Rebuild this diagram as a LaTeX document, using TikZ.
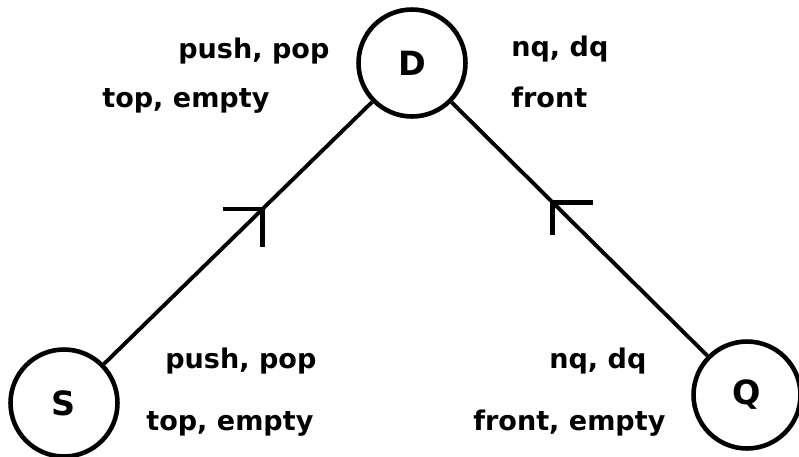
\documentclass[tikz,border=0pt]{standalone}
\usepackage{fontspec}
\setmainfont{DejaVu Sans}
\usetikzlibrary{calc}
\begin{document}
\begin{tikzpicture}[x=0.02cm,y=-0.02cm,
  state/.style={circle,draw,line width=2.6pt,minimum size=2.14cm,inner sep=0pt,
    font=\fontsize{19}{19}\selectfont\bfseries},
  link/.style={line width=2.2pt},
  barb/.style={line width=2.6pt},
  lbl/.style={anchor=base west,inner sep=0pt,
    font=\fontsize{15.4}{16}\selectfont\bfseries}]
\clip (0,0) rectangle (799,457);

% objects
\node[state] (D) at (412,63) {D};
\node[state] (S) at (64,403) {S};
\node[state] (Q) at (747,395) {Q};

% uses relations
\draw[link] (S) -- (D);
\draw[link] (Q) -- (D);

% open arrowheads pointing towards D
\coordinate (ls) at ($(S)!0.57!(D)$);
\draw[barb] ($(ls)+(-39,0)$) -- (ls) -- ($(ls)+(0,38)$);
\coordinate (rs) at ($(Q)!0.58!(D)$);
\draw[barb] ($(rs)+(40,0)$) -- (rs) -- ($(rs)+(0,33)$);

% operation labels
\node[lbl] (dsa) at (178,58) {push, pop};
\node[lbl] (dsb) at (102,107) {top, empty};
\node[lbl] (dqa) at (511,56) {nq, dq};
\node[lbl] (dqb) at (511,107) {front};
\node[lbl] (sa) at (165,368) {push, pop};
\node[lbl] (sb) at (146,430) {top, empty};
\node[lbl] (qa) at (549,368) {nq, dq};
\node[lbl] (qb) at (473,430) {front, empty};
\end{tikzpicture}
\end{document}
